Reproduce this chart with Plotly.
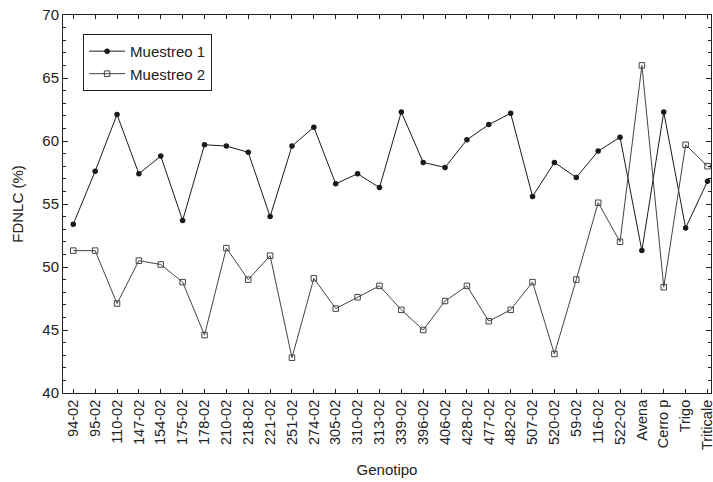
import plotly.graph_objects as go

genotipos = ["94-02", "95-02", "110-02", "147-02", "154-02", "175-02", "178-02", "210-02",
             "218-02", "221-02", "251-02", "274-02", "305-02", "310-02", "313-02", "339-02",
             "396-02", "406-02", "428-02", "477-02", "482-02", "507-02", "520-02", "59-02",
             "116-02", "522-02", "Avena", "Cerro p", "Trigo", "Triticale"]
muestreo1 = [53.4, 57.6, 62.1, 57.4, 58.8, 53.7, 59.7, 59.6, 59.1, 54.0, 59.6, 61.1, 56.6, 57.4,
             56.3, 62.3, 58.3, 57.9, 60.1, 61.3, 62.2, 55.6, 58.3, 57.1, 59.2, 60.3, 51.3, 62.3,
             53.1, 56.8]
muestreo2 = [51.3, 51.3, 47.1, 50.5, 50.2, 48.8, 44.6, 51.5, 49.0, 50.9, 42.8, 49.1, 46.7, 47.6,
             48.5, 46.6, 45.0, 47.3, 48.5, 45.7, 46.6, 48.8, 43.1, 49.0, 55.1, 52.0, 66.0, 48.4,
             59.7, 58.0]

idx = list(range(len(genotipos)))
font = "Liberation Sans, Arial, sans-serif"

fig = go.Figure()
fig.add_trace(go.Scatter(x=idx, y=muestreo1, mode="lines+markers", name="Muestreo 1",
                         line=dict(color="#1a1a1a", width=1),
                         marker=dict(symbol="circle", size=5.5, color="#1a1a1a")))
fig.add_trace(go.Scatter(x=idx, y=muestreo2, mode="lines+markers", name="Muestreo 2",
                         line=dict(color="#444444", width=1),
                         marker=dict(symbol="square-open", size=5.5, color="#444444",
                                     line=dict(width=1))))

fig.update_layout(
    width=713, height=482,
    margin=dict(l=63, r=2, t=15, b=89, autoexpand=False),
    paper_bgcolor="white", plot_bgcolor="white",
    font=dict(family=font, size=14.5, color="#222222"),
    showlegend=True,
    legend=dict(x=0.031, y=0.95, xanchor="left", yanchor="top",
                bordercolor="#222222", borderwidth=1, bgcolor="white",
                font=dict(size=15, family=font), itemwidth=36),
    xaxis=dict(
        tickmode="array", tickvals=idx, ticktext=genotipos, tickangle=-90,
        range=[-0.47, 29.16], showgrid=False, zeroline=False,
        showline=True, linecolor="#222222", linewidth=1, mirror="ticks",
        ticks="inside", ticklen=4, tickcolor="#222222", automargin=False,
        ticklabeloverflow="allow",
        title=dict(text="Genotipo", font=dict(size=15), standoff=15),
        tickfont=dict(size=14.5),
    ),
    yaxis=dict(
        range=[40, 70], tick0=40, dtick=5, showgrid=False, zeroline=False,
        showline=True, linecolor="#222222", linewidth=1, mirror="ticks",
        ticks="inside", ticklen=5, tickcolor="#222222", automargin=False,
        minor=dict(dtick=1, ticks="inside", ticklen=3, tickcolor="#222222"),
        title=dict(text="FDNLC (%)", font=dict(size=15), standoff=15),
        tickfont=dict(size=15),
    ),
)

fig.write_html("out.html", config={"displayModeBar": False},
               post_script="document.body.style.margin='0px';")
